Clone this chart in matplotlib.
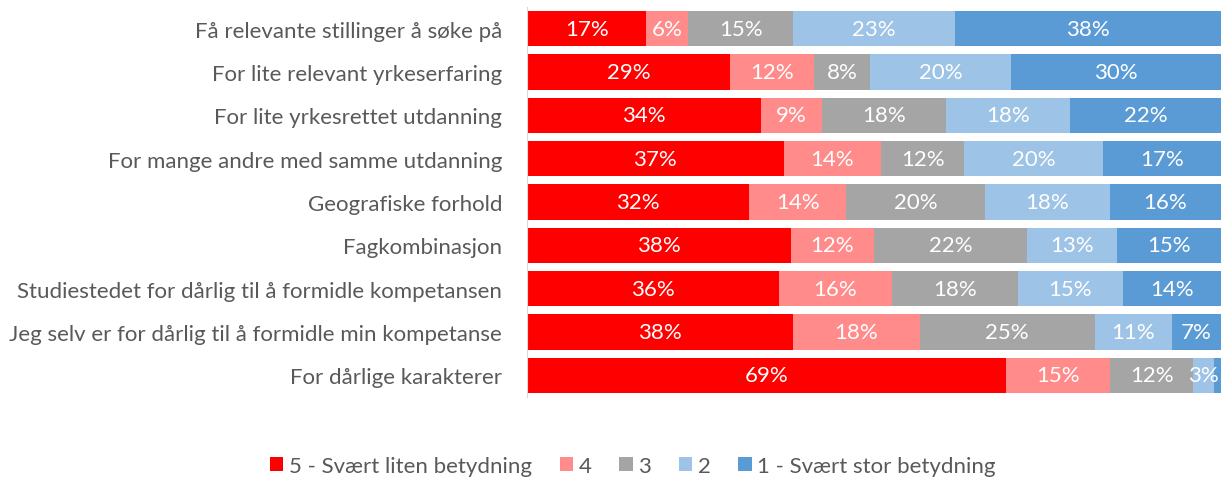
import matplotlib
matplotlib.use("Agg")
import matplotlib.pyplot as plt
import numpy as np

categories = [
    "Få relevante stillinger å søke på",
    "For lite relevant yrkeserfaring",
    "For lite yrkesrettet utdanning",
    "For mange andre med samme utdanning",
    "Geografiske forhold",
    "Fagkombinasjon",
    "Studiestedet for dårlig til å formidle kompetansen",
    "Jeg selv er for dårlig til å formidle min kompetanse",
    "For dårlige karakterer",
]
series_names = ["5 - Svært liten betydning", "4", "3", "2", "1 - Svært stor betydning"]
s5 = [17, 29, 34, 37, 32, 38, 36, 38, 69]
s4 = [6, 12, 9, 14, 14, 12, 16, 18, 15]
s3 = [15, 8, 18, 12, 20, 22, 18, 25, 12]
s2 = [23, 20, 18, 20, 18, 13, 15, 11, 3]
s1 = [38, 30, 22, 17, 16, 15, 14, 7, 1]
colors = ["#FF0000", "#FF8B8B", "#A5A5A5", "#9DC3E6", "#5B9BD5"]

plt.rcParams['font.family'] = ['Lato', 'DejaVu Sans']
FS = 16

fig = plt.figure(figsize=(12.21, 4.81), dpi=100)
ax = fig.add_axes([527/1221, 1-398/481, 1-527/1221, 390/481])

data = np.array([s5, s4, s3, s2, s1], dtype=float)
totals = data.sum(axis=0)
frac = data / totals
y = np.arange(len(categories))
left = np.zeros(len(categories))
handles = []
for i, name in enumerate(series_names):
    h = ax.barh(y, frac[i], left=left, height=0.81, color=colors[i], label=name)
    handles.append(h)
    for j in range(len(categories)):
        if data[i, j] >= 2:
            ax.text(left[j] + frac[i, j] / 2, y[j], f"{int(data[i, j])}%",
                    ha="center", va="center", color="white", fontsize=FS)
    left += frac[i]

ax.set_ylim(len(categories) - 0.5, -0.5)
ax.set_xlim(0, 1)
ax.set_yticks(y)
ax.set_yticklabels(categories, fontsize=FS, color="#595959")
ax.tick_params(axis="y", length=0, pad=18)
ax.set_xticks([])
for s in ["top", "right", "bottom"]:
    ax.spines[s].set_visible(False)
ax.spines["left"].set_color("#D9D9D9")

fig.legend(handles=handles, labels=series_names, loc="center", ncol=5,
           bbox_to_anchor=(633/1221, 1-467/481), frameon=False, fontsize=FS,
           handlelength=0.6, handleheight=0.6, handletextpad=0.25, columnspacing=1.25,
           labelcolor="#595959")

fig.savefig("out.png", dpi=100)
